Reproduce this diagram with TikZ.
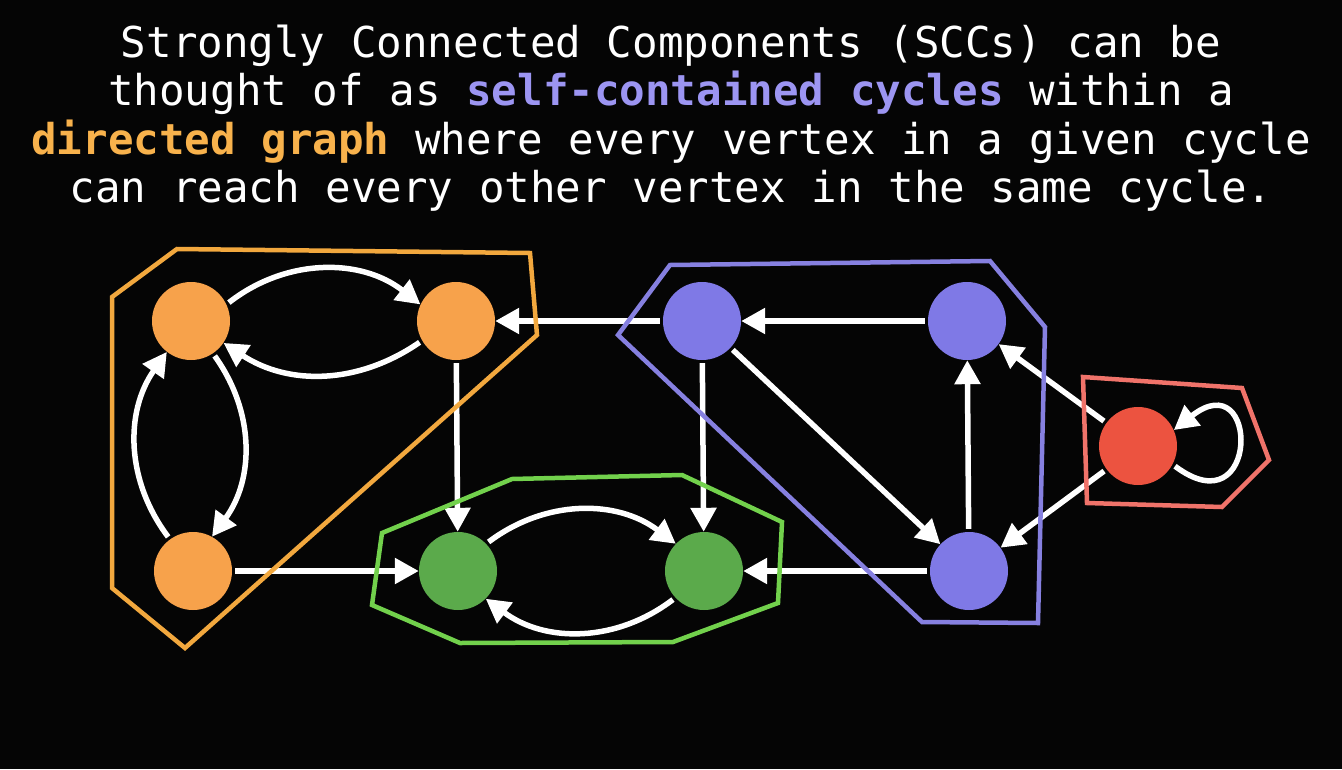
\documentclass[tikz,border=0pt]{standalone}
\usepackage{fontspec}
\setmonofont{DejaVu Sans Mono}
\usetikzlibrary{arrows.meta}
\definecolor{bg}{HTML}{050505}
\definecolor{orangeN}{HTML}{F7A24B}
\definecolor{orangeL}{HTML}{F2A83E}
\definecolor{greenN}{HTML}{5BAA4B}
\definecolor{greenL}{HTML}{72D14C}
\definecolor{purpleN}{HTML}{7F79E6}
\definecolor{purpleL}{HTML}{8680E0}
\definecolor{redN}{HTML}{EC5340}
\definecolor{redL}{HTML}{F0736A}
\definecolor{txtP}{HTML}{9C95F2}
\definecolor{txtO}{HTML}{F8B24C}
\begin{document}
\begin{tikzpicture}[x=1pt,y=1pt,
  vtx/.style={circle, minimum size=78pt, inner sep=0pt, draw=none},
  edge/.style={draw=white, line width=5.5pt, -{Triangle[length=24pt,width=25pt]}, shorten <=3pt},
  hull/.style={line width=4.5pt, line join=miter},
  txt/.style={text=white, anchor=base, font=\ttfamily\fontsize{42.5}{48}\selectfont, inner sep=0pt}]
\fill[bg] (0,0) rectangle (1342,-769);
\useasboundingbox (0,0) rectangle (1342,-769);
% title
\node[txt] (l1) at (671,-57) {Strongly Connected Components (SCCs) can be};
\node[txt] (l2) at (671,-105.5) {thought of as \textbf{\textcolor{txtP}{self-contained cycles}} within a};
\node[txt] (l3) at (671,-154) {\textbf{\textcolor{txtO}{directed graph}} where every vertex in a given cycle};
\node[txt] (l4) at (671,-202.5) {can reach every other vertex in the same cycle.};
% vertices
\node[vtx, fill=orangeN] (O1) at (191,-321) {};
\node[vtx, fill=orangeN] (O2) at (456,-321) {};
\node[vtx, fill=orangeN] (O3) at (193,-571) {};
\node[vtx, fill=greenN] (G1) at (458,-571) {};
\node[vtx, fill=greenN] (G2) at (704,-571) {};
\node[vtx, fill=purpleN] (P1) at (702,-321) {};
\node[vtx, fill=purpleN] (P2) at (967,-321) {};
\node[vtx, fill=purpleN] (P3) at (969,-571) {};
\node[vtx, fill=redN] (R) at (1138,-446) {};
% edges
\draw[edge] (O1.25) to[bend left=38] (O2.155);
\draw[edge] (O2.-150) to[bend left=34] (O1.-34);
\draw[edge] (O1.-56) to[bend left=36] (O3.61);
\draw[edge] (O3.126) to[bend left=36] (O1.-128);
\draw[edge] (O3) -- (G1);
\draw[edge] (O2) -- (G1);
\draw[edge] (G1.44) to[bend left=37] (G2.136);
\draw[edge] (G2.-137) to[bend left=37] (G1.-45);
\draw[edge] (P1) -- (O2);
\draw[edge] (P2) -- (P1);
\draw[edge] (P1) -- (G2);
\draw[edge] (P1) -- (P3);
\draw[edge] (P3) -- (P2);
\draw[edge] (P3) -- (G2);
\draw[edge] (R) -- (P2);
\draw[edge] (R) -- (P3);
\draw[edge] (R.-28) .. controls (1260,-530) and (1260,-362) .. (R.24);
% component hulls
\draw[hull, orangeL] (112,-297) -- (177,-249) -- (530,-253) -- (537,-335) -- (185,-648) -- (112,-588) -- cycle;
\draw[hull, greenL] (382,-533) -- (512,-479) -- (682,-475) -- (782,-522) -- (778,-603) -- (673,-642) -- (460,-643) -- (372,-605) -- cycle;
\draw[hull, purpleL] (670,-265) -- (990,-261) -- (1045,-327) -- (1038,-623) -- (922,-622) -- (618,-335) -- cycle;
\draw[hull, redL] (1083,-377) -- (1242,-388) -- (1269,-460) -- (1222,-507) -- (1087,-503) -- cycle;
\end{tikzpicture}
\end{document}
